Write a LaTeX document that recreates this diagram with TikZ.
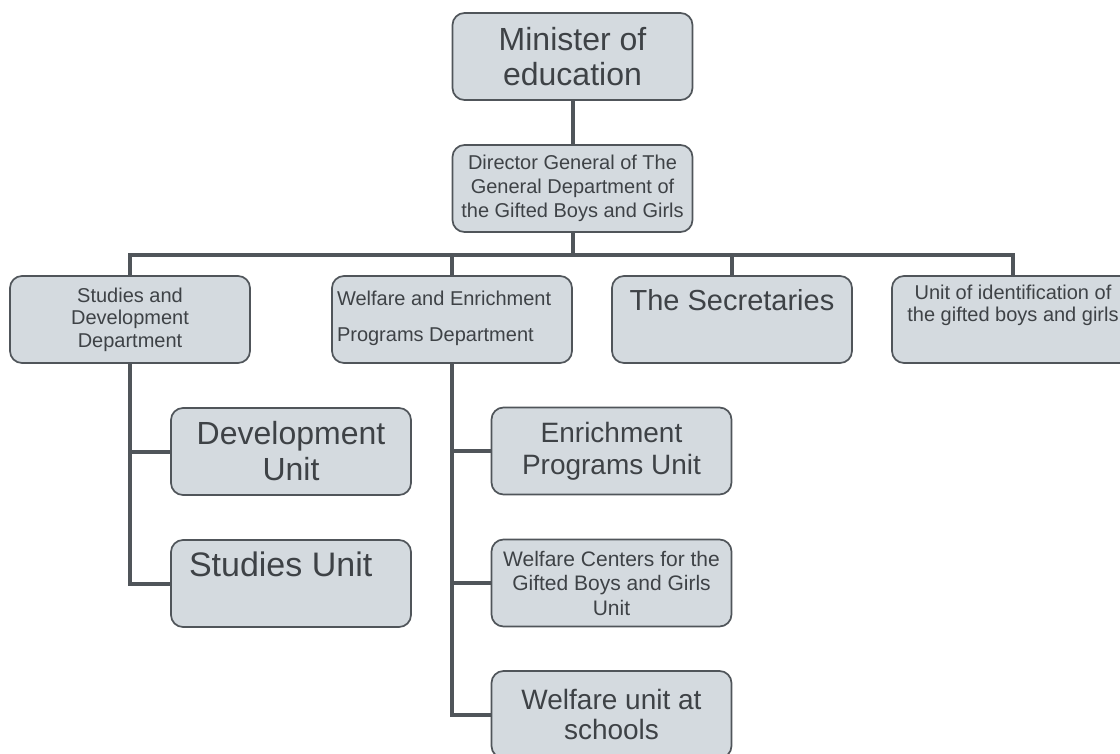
\documentclass[tikz,border=0pt]{standalone}
\usepackage{fontspec}
\setmainfont{Liberation Sans}
\usepackage{tikz}
\usetikzlibrary{positioning,calc}
\definecolor{boxfill}{RGB}{212,218,223}
\definecolor{boxline}{RGB}{80,85,90}
\definecolor{textgray}{RGB}{62,66,70}

\begin{document}
\begin{tikzpicture}[x=1pt,y=-1pt,
  unit/.style={draw=boxline,line width=1.7pt,fill=boxfill,rounded corners=12pt,
    minimum width=240pt,minimum height=87pt,inner sep=0pt,text=textgray,align=center},
  link/.style={draw=boxline,line width=4pt}]
\useasboundingbox (0,0) rectangle (1120,753);
% top of the chart
\node[unit,font=\fontsize{32}{35}\selectfont] (minister) at (572.5,56.5) {Minister of\\education};
\node[unit,font=\fontsize{20}{24}\selectfont] (director) at (572.5,188.5)
  {Director General of The\\General Department of\\the Gifted Boys and Girls};
% departments
\node[unit,font=\fontsize{20}{22.5}\selectfont] (studdev) at (130,319.5)
  {Studies and\\Development\\Department};
\node[unit,font=\fontsize{20}{36}\selectfont] (welfare) at (452,319.5)
  {\parbox[c][87pt][t]{240pt}{\raggedright\vspace*{15pt}\hspace*{5pt}Welfare and Enrichment\\\hspace*{5pt}Programs Department}};
\node[unit,font=\fontsize{29}{33}\selectfont] (secr) at (732,319.5)
  {\parbox[c][87pt][t]{240pt}{\centering\vspace*{13pt}The Secretaries}};
\node[unit,font=\fontsize{20}{22}\selectfont] (ident) at (1013,319.5)
  {\parbox[c][87pt][t]{242pt}{\centering\vspace*{9pt}Unit of identification of\\the gifted boys and girls}};
% units below
\node[unit,font=\fontsize{32}{36}\selectfont] (devunit) at (291,451.5) {Development\\Unit};
\node[unit,font=\fontsize{34}{38}\selectfont] (studunit) at (291,583.5)
  {\parbox[c][87pt][t]{240pt}{\raggedright\vspace*{12pt}\hspace*{18pt}Studies Unit}};
\node[unit,font=\fontsize{28}{32}\selectfont] (enrich) at (611.5,451) {Enrichment\\Programs Unit};
\node[unit,font=\fontsize{21}{24.5}\selectfont] (centers) at (611.5,583)
  {Welfare Centers for the\\Gifted Boys and Girls\\Unit};
\node[unit,font=\fontsize{28}{30}\selectfont] (schools) at (611.5,714.5) {Welfare unit at\\schools};
% connectors
\coordinate (bus) at (572.5,255);
\draw[link] (minister) -- (director);
\draw[link] (director) -- (bus);
\draw[link] (studdev.north) |- (bus) -| (ident.north);
\draw[link] (welfare.north) -- (welfare.north |- bus);
\draw[link] (secr.north) -- (secr.north |- bus);
\draw[link] (studdev.south) |- (devunit.west);
\draw[link] (studdev.south) |- (studunit.west);
\draw[link] (welfare.south) |- (enrich.west);
\draw[link] (welfare.south) |- (centers.west);
\draw[link] (welfare.south) |- (schools.west);
\end{tikzpicture}
\end{document}
